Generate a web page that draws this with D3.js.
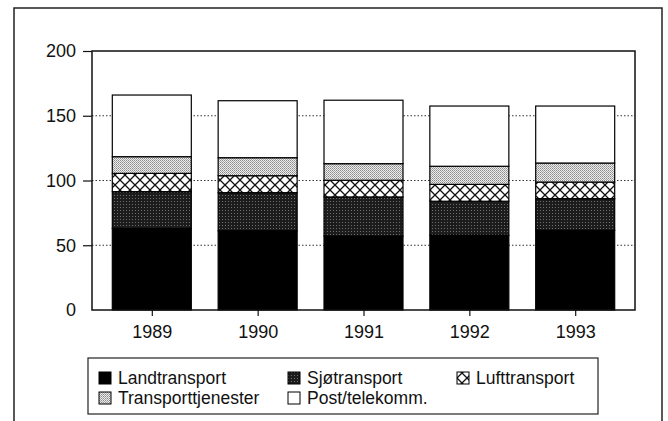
<!DOCTYPE html>
<html>
<head>
<meta charset="utf-8">
<script src="https://cdn.jsdelivr.net/npm/d3@7"></script>
<style>
  body { margin: 0; background: #fff; }
  text { font-family: "Liberation Sans", Arial, sans-serif; fill: #111; }
</style>
</head>
<body>
<div class="chartspace"></div>
<script>
// values
var years = ["1989", "1990", "1991", "1992", "1993"];
var landtransport = [63, 61.2, 57.1, 57.7, 61.5];
var sjotransport = [28.4, 29.4, 30.2, 26.3, 24.5];
var lufttransport = [14.1, 13.1, 12.9, 13, 12.8];
var transporttjenester = [12.9, 13.9, 12.8, 14, 14.7];
var posttelekomm = [47.6, 44, 49, 46.5, 44];
var seriesNames = ["Landtransport", "Sjøtransport", "Lufttransport", "Transporttjenester", "Post/telekomm."];
var yTicks = [0, 50, 100, 150, 200];

var seriesValues = [landtransport, sjotransport, lufttransport, transporttjenester, posttelekomm];
var rows = years.map(function (y, i) {
  var r = { year: y };
  seriesNames.forEach(function (s, k) { r[s] = seriesValues[k][i]; });
  return r;
});
var stacked = d3.stack().keys(seriesNames)(rows);

var svg = d3.select(".chartspace").append("svg")
  .attr("width", 668)
  .attr("height", 421);

// fill patterns
var defs = svg.append("defs");

var pSjo = defs.append("pattern").attr("id", "sjo")
  .attr("patternUnits", "userSpaceOnUse").attr("width", 3).attr("height", 3);
pSjo.append("rect").attr("width", 3).attr("height", 3).attr("fill", "#1c1c1c");
pSjo.append("rect").attr("x", 0).attr("y", 0).attr("width", 1).attr("height", 1).attr("fill", "#6e6e6e");

var pLuft = defs.append("pattern").attr("id", "luft")
  .attr("patternUnits", "userSpaceOnUse").attr("width", 10).attr("height", 10);
pLuft.append("rect").attr("width", 10).attr("height", 10).attr("fill", "#fff");
pLuft.append("path").attr("d", "M0,0L10,10M10,0L0,10")
  .attr("stroke", "#111").attr("stroke-width", 1.3);

var pTransp = defs.append("pattern").attr("id", "transp")
  .attr("patternUnits", "userSpaceOnUse").attr("width", 2).attr("height", 2);
pTransp.append("rect").attr("width", 2).attr("height", 2).attr("fill", "#ececec");
pTransp.append("rect").attr("x", 0).attr("y", 0).attr("width", 1).attr("height", 1).attr("fill", "#8c8c8c");
pTransp.append("rect").attr("x", 1).attr("y", 1).attr("width", 1).attr("height", 1).attr("fill", "#a8a8a8");

var fills = {
  "Landtransport": "#000",
  "Sjøtransport": "url(#sjo)",
  "Lufttransport": "url(#luft)",
  "Transporttjenester": "url(#transp)",
  "Post/telekomm.": "#fff"
};

// outer frame
svg.append("rect")
  .attr("x", 14).attr("y", 8).attr("width", 648).attr("height", 430)
  .attr("fill", "none").attr("stroke", "#222").attr("stroke-width", 1.5);

var plotLeft = 92, plotRight = 635, plotTop = 51, plotBottom = 310;

var x = d3.scalePoint().domain(years).range([plotLeft, plotRight]).padding(0.565);
var y = d3.scaleLinear().domain([0, 200]).range([plotBottom, plotTop]);
var barW = 79;

// dotted gridlines
svg.selectAll(".grid")
  .data(yTicks.filter(function (t) { return t > 0 && t < 200; }))
  .enter().append("line")
  .attr("x1", plotLeft).attr("x2", plotRight)
  .attr("y1", function (d) { return y(d); })
  .attr("y2", function (d) { return y(d); })
  .attr("stroke", "#333").attr("stroke-width", 1)
  .attr("stroke-dasharray", "1.5,2");

// bars
svg.selectAll(".layer")
  .data(stacked)
  .enter().append("g")
  .attr("fill", function (d) { return fills[d.key]; })
  .selectAll("rect")
  .data(function (d) { return d; })
  .enter().append("rect")
  .attr("x", function (d) { return x(d.data.year) - barW / 2; })
  .attr("y", function (d) { return y(d[1]); })
  .attr("width", barW)
  .attr("height", function (d) { return y(d[0]) - y(d[1]); })
  .attr("stroke", "#000").attr("stroke-width", 1.2);

// plot frame
svg.append("rect")
  .attr("x", plotLeft).attr("y", plotTop)
  .attr("width", plotRight - plotLeft).attr("height", plotBottom - plotTop)
  .attr("fill", "none").attr("stroke", "#111").attr("stroke-width", 1.5);

// y axis
var yAxis = svg.append("g").attr("transform", "translate(" + plotLeft + ",0)")
  .call(d3.axisLeft(y).tickValues(yTicks).tickSize(9).tickPadding(7));
yAxis.select(".domain").remove();
yAxis.selectAll(".tick line").attr("stroke", "#111").attr("stroke-width", 1.2)
  .filter(function (d) { return d === 0; }).remove();
yAxis.selectAll(".tick text").attr("font-size", 18).attr("fill", "#111")
  .attr("font-family", "Liberation Sans, Arial, sans-serif");

// x axis
var xAxis = svg.append("g").attr("transform", "translate(0," + plotBottom + ")")
  .call(d3.axisBottom(x).tickSize(6).tickPadding(9));
xAxis.select(".domain").remove();
xAxis.selectAll(".tick line").attr("stroke", "#111").attr("stroke-width", 1.2);
xAxis.selectAll(".tick text").attr("font-size", 18).attr("fill", "#111")
  .attr("font-family", "Liberation Sans, Arial, sans-serif");

// legend
var legend = svg.append("g");
legend.append("rect")
  .attr("x", 88).attr("y", 358).attr("width", 510).attr("height", 56)
  .attr("fill", "#fff").attr("stroke", "#222").attr("stroke-width", 1.2);

var legendPos = [
  [99, 378], [288, 378], [457, 378],
  [99, 398], [288, 398]
];
var items = legend.selectAll(".item")
  .data(seriesNames)
  .enter().append("g")
  .attr("transform", function (d, i) { return "translate(" + legendPos[i][0] + "," + legendPos[i][1] + ")"; });
items.append("rect")
  .attr("x", 0).attr("y", -6).attr("width", 12).attr("height", 12)
  .attr("fill", function (d) { return fills[d]; })
  .attr("stroke", "#000").attr("stroke-width", 1);
items.append("text")
  .attr("x", 19).attr("y", 0).attr("dy", "0.35em")
  .attr("font-size", 17.5)
  .text(function (d) { return d; });
</script>
</body>
</html>
